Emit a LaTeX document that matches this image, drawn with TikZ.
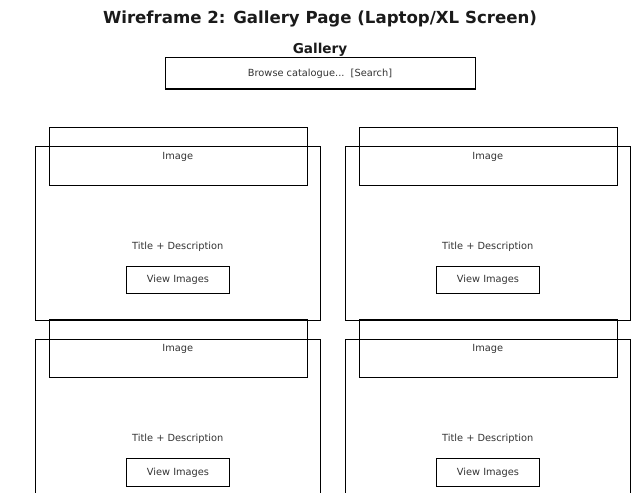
\documentclass[tikz,border=0pt]{standalone}
\usepackage{fontspec}
\setmainfont{DejaVu Sans}
\definecolor{txt}{HTML}{333333}
\definecolor{ttl}{HTML}{1A1A1A}
\tikzset{
  box/.style={draw=black, line width=1pt, inner sep=0pt, fill=none},
  cardbox/.style={box, minimum width=284.3pt, minimum height=173.3pt},
  imgbox/.style={box, minimum width=258.3pt, minimum height=57.7pt},
  btnbox/.style={box, minimum width=103.4pt, minimum height=27.6pt, text=txt, font=\fontsize{9.8}{11}\selectfont},
  small/.style={text=txt, inner sep=0pt, font=\fontsize{9.8}{11}\selectfont},
}
\begin{document}
\begin{tikzpicture}[x=1pt,y=-1pt]
\useasboundingbox (0,0) rectangle (640,503);
\node[text=ttl, inner sep=0pt, font=\fontsize{16.6}{20}\bfseries\selectfont] (title) at (320,18.5) {Wireframe 2: Gallery Page (Laptop/XL Screen)};
\node[text=ttl, inner sep=0pt, font=\fontsize{13.6}{16}\bfseries\selectfont] (gallery) at (320,50.3) {Gallery};
\node[box, minimum width=310pt, minimum height=31pt, text=txt, font=\fontsize{9.8}{11}\selectfont] (search) at (320,73.5) {Browse catalogue...\ \ [Search]};
\begin{scope}
\clip (0,0) rectangle (640,492);
\foreach \dx/\dy/\n in {0/0/a, 310/0/b, 0/192.5/c, 310/192.5/d}{
  \node[cardbox] (card\n) at (177.85+\dx,233.35+\dy) {};
  \node[imgbox] (img\n) at (178.15+\dx,156.15+\dy) {};
  \node[small] (imgtxt\n) at (177.8+\dx,156.5+\dy) {Image};
  \node[small] (desc\n) at (177.8+\dx,246.7+\dy) {Title + Description};
  \node[btnbox] (btn\n) at (178+\dx,279.8+\dy) {View Images};
}
\end{scope}
\end{tikzpicture}
\end{document}
